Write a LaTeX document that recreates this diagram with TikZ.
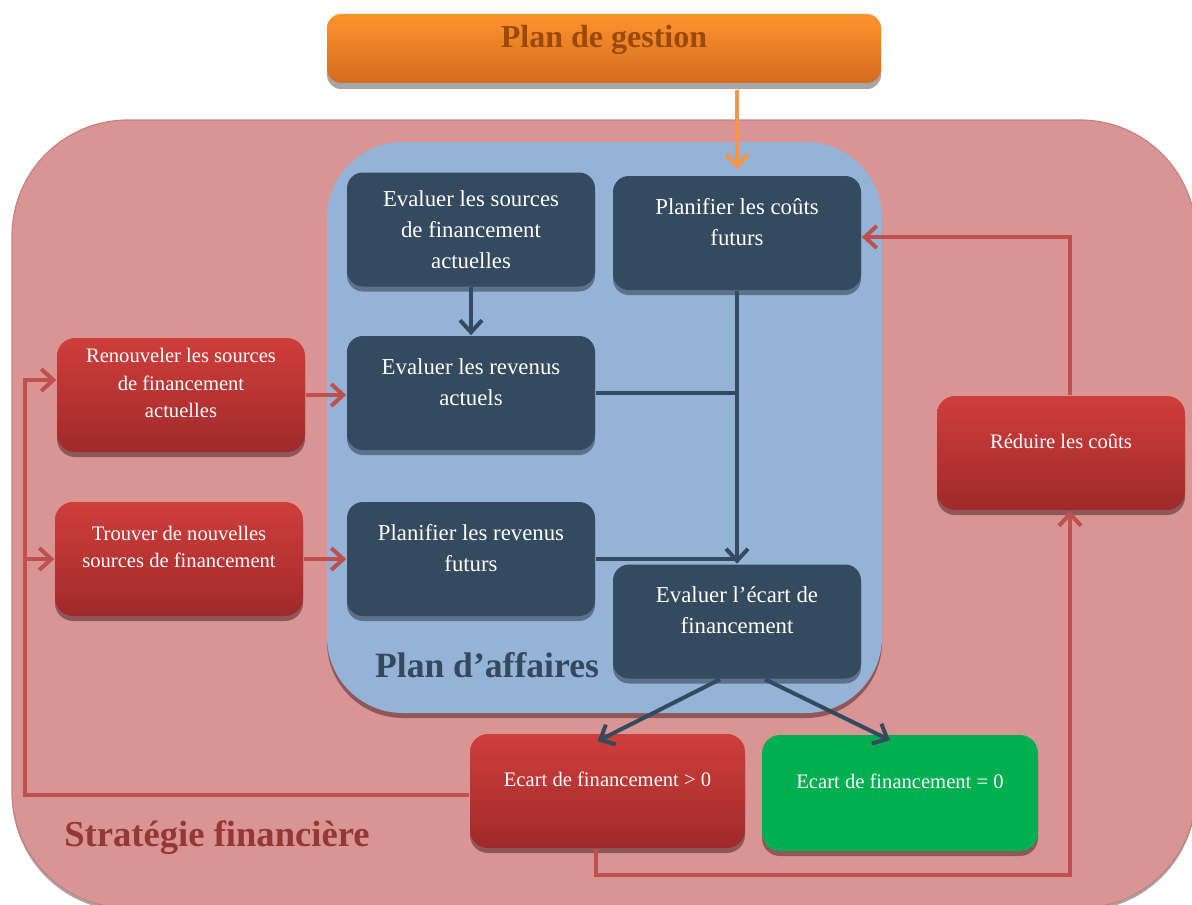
\documentclass[tikz,border=0pt]{standalone}
\usepackage{fontspec}
\setmainfont{Liberation Serif}
\usetikzlibrary{arrows.meta,positioning,shadows}

\definecolor{stratbg}{HTML}{D99594}
\definecolor{stratedge}{HTML}{C7817F}
\definecolor{stratink}{HTML}{953735}
\definecolor{affbg}{HTML}{95B3D7}
\definecolor{affink}{HTML}{34495E}
\definecolor{slate}{HTML}{344A5F}
\definecolor{slateshade}{HTML}{5E7189}
\definecolor{redtop}{HTML}{CF3E3B}
\definecolor{redbot}{HTML}{A02A2A}
\definecolor{redshade}{HTML}{8F5858}
\definecolor{redline}{HTML}{C0504D}
\definecolor{okgreen}{HTML}{00B050}
\definecolor{orgtop}{HTML}{FF932C}
\definecolor{orgbot}{HTML}{D26C1F}
\definecolor{orgink}{HTML}{9B4A0D}
\definecolor{orgline}{HTML}{F79646}

% empty last line, pushes the text up in its box
\newcommand\pushup[1]{\\[#1]\mbox{}}

\begin{document}
\begin{tikzpicture}[
    x=0.5pt, y=-0.5pt,
    thick,
    darkbox/.style={rectangle, rounded corners=8pt, fill=slate, text=white,
      minimum width=124pt, minimum height=57pt, align=center,
      font=\fontsize{11.4}{15.5}\selectfont,
      drop shadow={shadow xshift=0pt, shadow yshift=-2.5pt, fill=slateshade, opacity=1}},
    redbox/.style={rectangle, rounded corners=9pt, top color=redtop, bottom color=redbot,
      text=white, minimum width=124pt, minimum height=57pt, align=center,
      font=\fontsize{10.3}{13.8}\selectfont,
      drop shadow={shadow xshift=0pt, shadow yshift=-2.5pt, fill=redshade, opacity=1}},
    darrow/.style={draw=slate, line width=2pt, -{Straight Barb[length=6pt, width=11pt]}},
    rline/.style={draw=redline, line width=2pt},
    rarrow/.style={rline, -{Straight Barb[length=6pt, width=11pt]}}
  ]
  \useasboundingbox (0,0) rectangle (1192,904);

  % containers
  \fill[stratbg, draw=stratedge, line width=0.6pt, rounded corners=58pt,
    drop shadow={shadow xshift=0pt, shadow yshift=-1.5pt, fill=black!35, opacity=1}]
    (12,120) rectangle (1196,908);
  \fill[affbg, rounded corners=38pt,
    drop shadow={shadow xshift=0pt, shadow yshift=-2.5pt, fill=redshade, opacity=1}]
    (327,142) rectangle (882,713);
  \node[font=\fontsize{18.3}{21}\selectfont\bfseries, text=stratink] (stratlbl) at (217,838) {Stratégie financière};
  \node[font=\fontsize{17.8}{21}\selectfont\bfseries, text=affink] (afflbl) at (487,665) {Plan d’affaires};

  % top
  \node[rectangle, rounded corners=7pt, top color=orgtop, bottom color=orgbot, text=orgink,
    minimum width=277pt, minimum height=34.5pt, align=center,
    font=\fontsize{16}{19}\selectfont\bfseries,
    drop shadow={shadow xshift=0pt, shadow yshift=-3pt, fill=black!35, opacity=1}]
    (gestion) at (604,48.5) {Plan de gestion\pushup{-6.5pt}};

  % plan d'affaires
  \node[darkbox] (srcnow) at (471,229.5) {Evaluer les sources\\de financement\\actuelles};
  \node[darkbox] (costfut) at (737,233) {Planifier les coûts\\futurs\pushup{-4.5pt}};
  \node[darkbox] (revnow) at (471,393) {Evaluer les revenus\\actuels\pushup{-4.5pt}};
  \node[darkbox] (revfut) at (471,559) {Planifier les revenus\\futurs\pushup{-4.5pt}};
  \node[darkbox] (gap) at (737,621.5) {Evaluer l’écart de\\financement\pushup{-4.5pt}};

  % strategie
  \node[redbox] (renew) at (181,395) {Renouveler les sources\\de financement\\actuelles\pushup{-1.8pt}};
  \node[redbox] (newsrc) at (179,559) {Trouver de nouvelles\\sources de financement\pushup{-1.8pt}};
  \node[redbox] (cut) at (1061,453) {Réduire les coûts\pushup{-1.8pt}};
  \node[redbox, minimum width=137.5pt] (gappos) at (607.5,791) {Ecart de financement > 0\pushup{-1.8pt}};
  \node[redbox, minimum width=138pt, minimum height=58pt, top color=okgreen, bottom color=okgreen]
    (gapzero) at (900,793) {Ecart de financement = 0\pushup{-1.8pt}};

  % connectors
  \draw[draw=orgline, line width=2pt, -{Straight Barb[length=6pt, width=11pt]}, shorten >=3pt]
    ([yshift=-3pt]costfut.north |- gestion.south) -- (costfut.north);
  \draw[darrow] (srcnow) -- (revnow);
  \draw[darrow] (costfut.south) -- (costfut.south |- gap.north);
  \draw[slate, line width=2pt] (revnow.east) -- (revnow.east -| costfut.south);
  \draw[slate, line width=2pt] (revfut.east) -- (revfut.east -| costfut.south);
  \draw[darrow] ([xshift=-8.5pt]gap.south) -- ([xshift=-5pt, yshift=-4pt]gappos.north);
  \draw[darrow] ([xshift=14pt]gap.south) -- ([xshift=-5pt, yshift=-3pt]gapzero.north);

  \coordinate (leftbus) at (25,0);
  \draw[rarrow] (renew.east) -- (renew.east -| revnow.west);
  \draw[rarrow] (newsrc.east) -- (newsrc.east -| revfut.west);
  \draw[rarrow] ([yshift=-2pt]gappos.west) -| ([yshift=7.5pt]renew.west -| leftbus) -- ([yshift=7.5pt]renew.west);
  \draw[rarrow] (newsrc.west -| leftbus) -- (newsrc.west);
  \draw[rarrow] ([xshift=-6pt]gappos.south) -- ++(0,26) -| ([xshift=4.5pt]cut.south);
  \draw[rarrow] ([xshift=4.5pt]cut.north) |- ([yshift=-2pt]costfut.east);
\end{tikzpicture}
\end{document}
